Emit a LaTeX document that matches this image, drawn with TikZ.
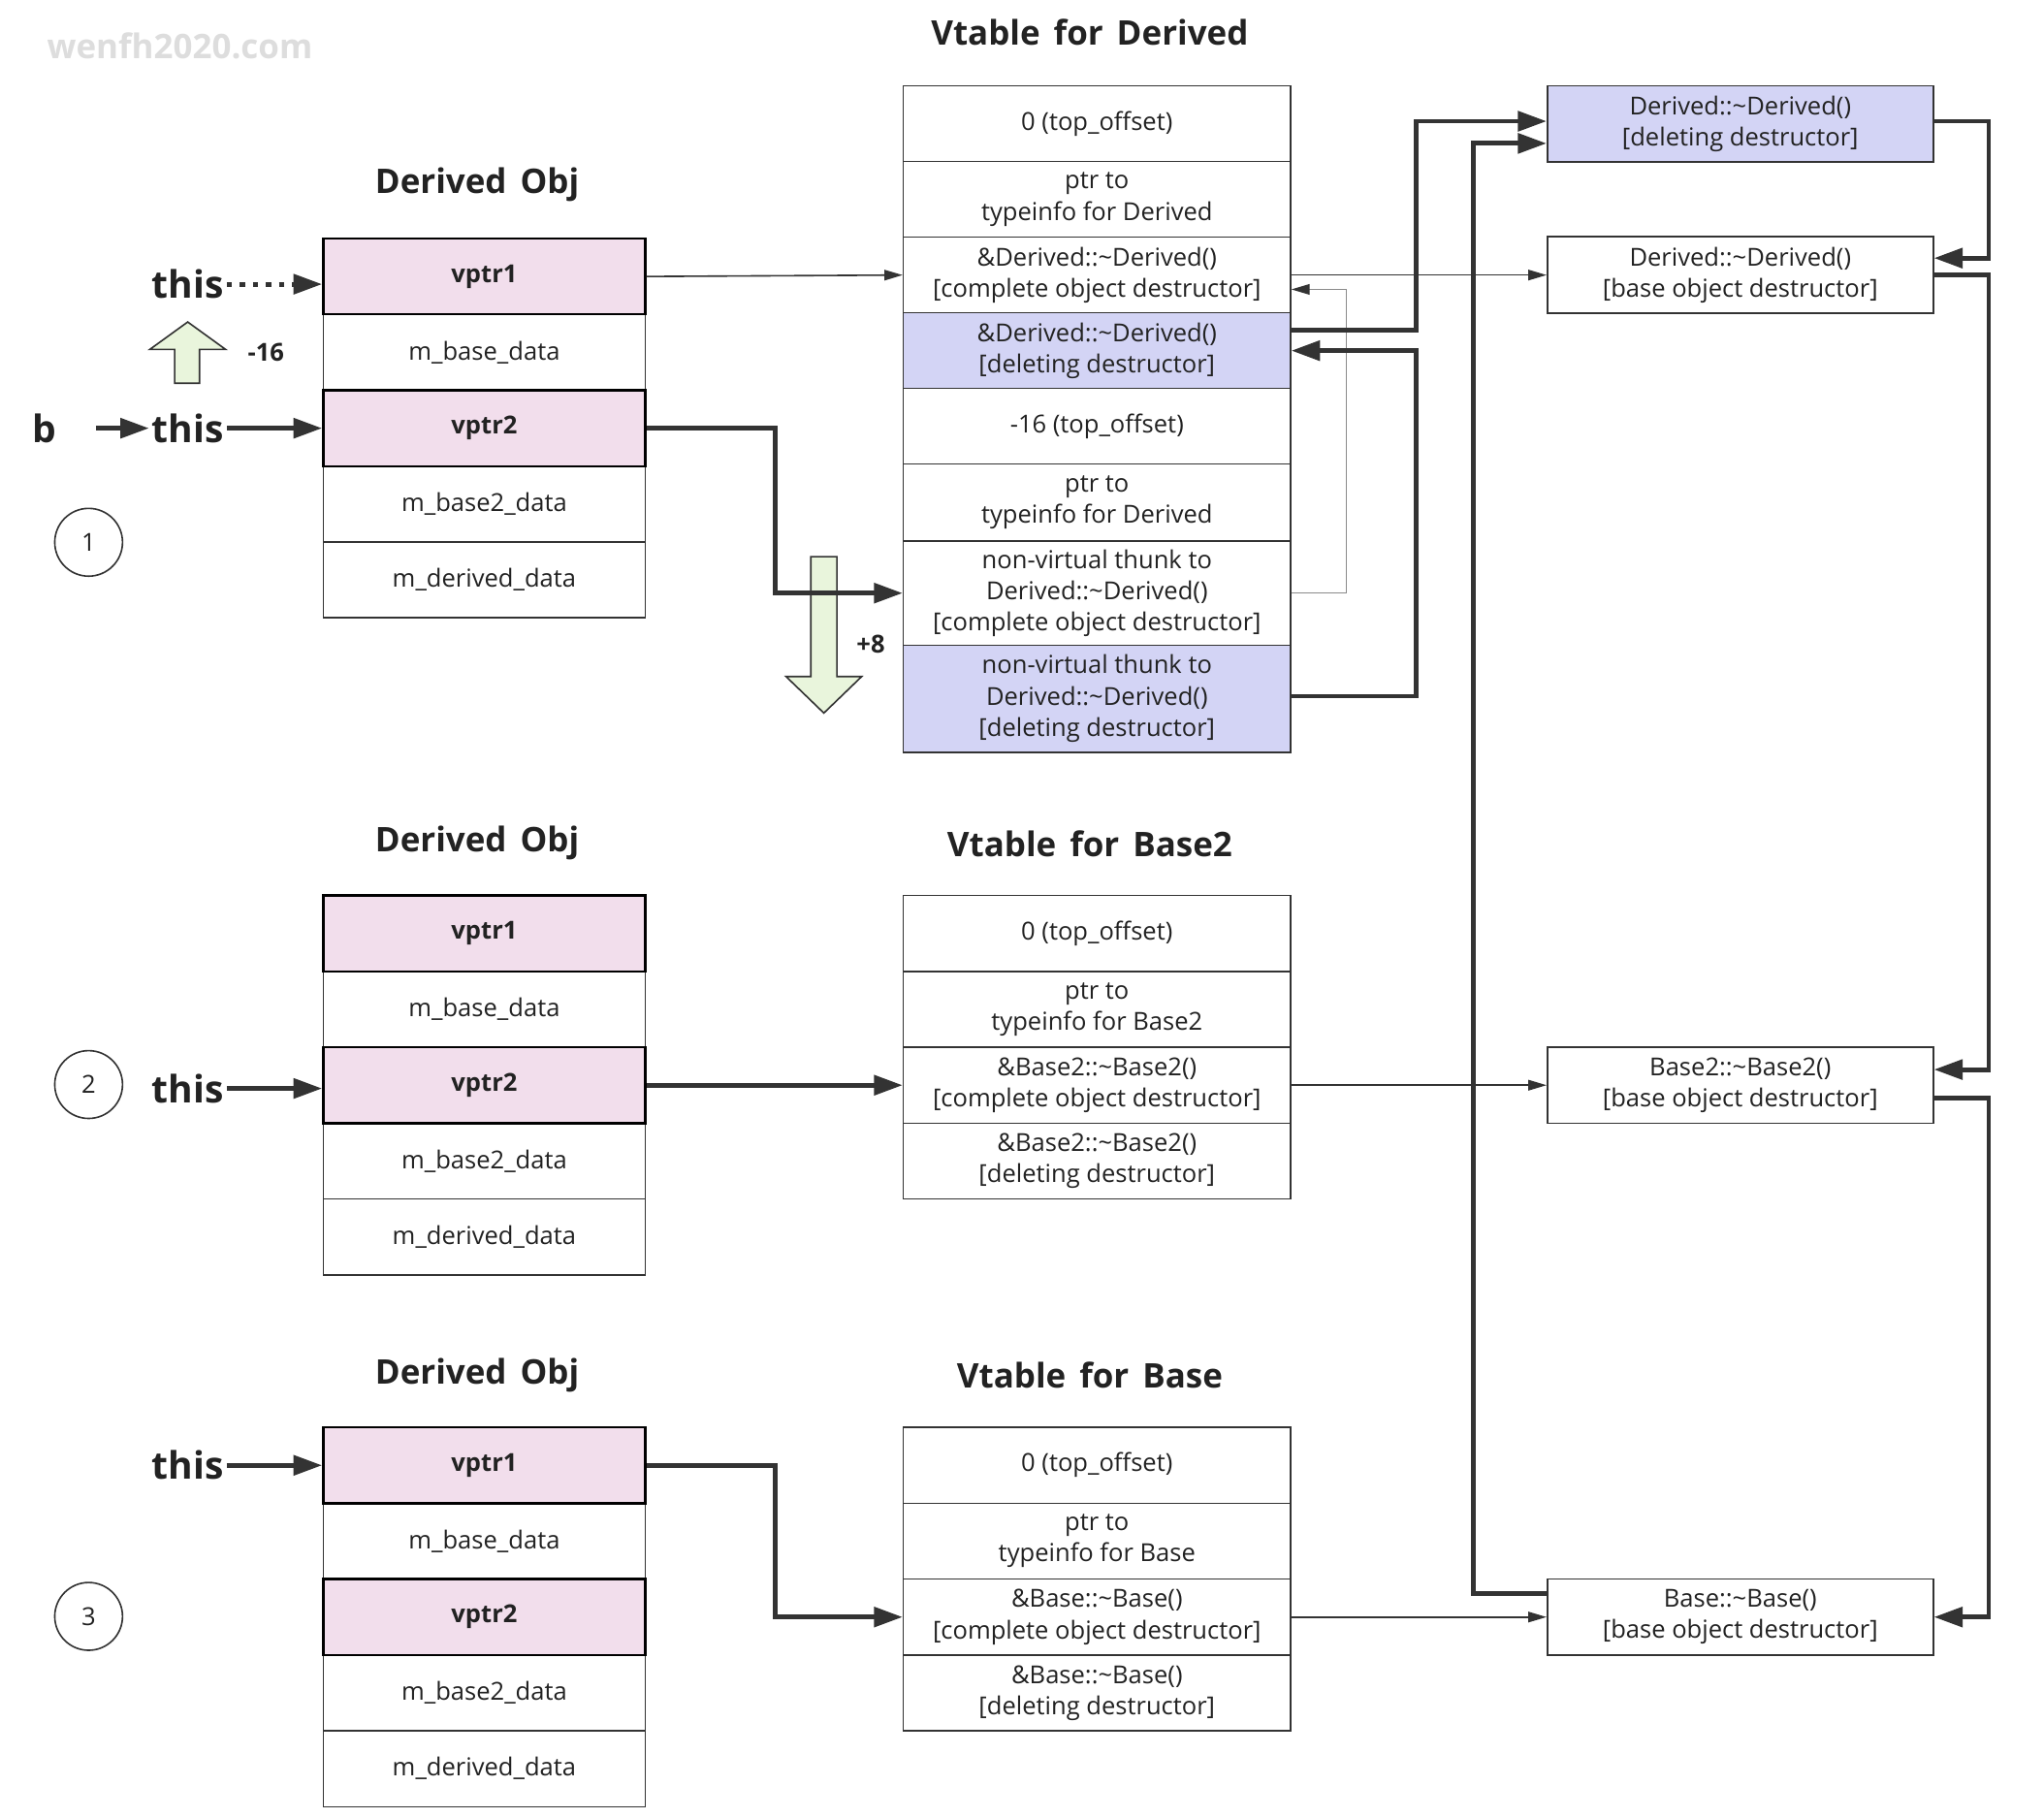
\documentclass[tikz,border=0pt]{standalone}
\usepackage{fontspec}
\setmainfont{Open Sans}
\usetikzlibrary{arrows.meta,calc}
\definecolor{ln}{HTML}{333333}
\definecolor{txt}{HTML}{222222}
\definecolor{pinkf}{HTML}{F2DEEC}
\definecolor{lavf}{HTML}{D3D4F5}
\definecolor{grnf}{HTML}{E9F5DC}
\definecolor{wm}{HTML}{DDDDDD}
\definecolor{gthin}{HTML}{8A8A8A}
\newcommand{\ttlfont}{\fontsize{13}{15}\selectfont\bfseries\spaceskip=0.4em\relax}
\begin{document}
\begin{tikzpicture}[x=0.5pt,y=-0.5pt,
  body/.style={font=\fontsize{9.5}{12}\selectfont,text=txt,align=center},
  objc/.style={body,draw=ln,line width=0.6pt,fill=white,minimum width=123.5pt,minimum height=29.1pt,inner sep=0pt},
  vp/.style={fill=pinkf,draw=black,line width=0.9pt,font=\fontsize{9.5}{12}\selectfont\bfseries},
  vtc/.style={body,draw=ln,line width=0.6pt,fill=white,minimum width=148.5pt,minimum height=29.1pt,inner sep=0pt},
  rbox/.style={body,draw=ln,line width=0.6pt,fill=white,minimum width=148pt,minimum height=29.3pt,inner sep=0pt},
  lav/.style={fill=lavf},
  ttl/.style={font=\ttlfont,text=txt},
  thisf/.style={font=\fontsize{14.5}{18}\selectfont\bfseries,text=txt,inner sep=1pt},
  numc/.style={body,circle,draw=ln,line width=0.6pt,minimum size=26pt,inner sep=0pt},
  offl/.style={font=\fontsize{9.5}{11}\selectfont\bfseries,text=txt},
  thk/.style={draw=ln,line width=1.8pt,-{Triangle[length=11pt,width=7.5pt]}},
  thn/.style={draw=ln,line width=0.6pt,-{Triangle[length=7pt,width=4pt]}},
  gthn/.style={draw=gthin,line width=0.5pt,-{Triangle[length=7pt,width=4pt,color=ln]}},
  garrow/.style={fill=grnf,draw=ln,line width=0.6pt,line join=miter}
]
\useasboundingbox (0,0) rectangle (1568,1394);
\fill[white] (0,0) rectangle (1568,1394);

% watermark
\node[font=\fontsize{13}{15}\selectfont\bfseries,text=wm] (wmk) at (138,35) {wenfh2020.com};

% ---------- titles ----------
\node[ttl] (tto1) at (366,142) {Derived Obj};
\node[ttl] (tto2) at (366,647) {Derived Obj};
\node[ttl] (tto3) at (366,1055) {Derived Obj};
\node[ttl] (ttv1) at (836,25) {Vtable for Derived};
\node[ttl] (ttv2) at (836,647) {Vtable for Base2};
\node[ttl] (ttv3) at (836,1055) {Vtable for Base};

% ---------- object 1 ----------
\node[objc] (a2) at (371.5,270.3) {m\_base\_data};
\node[objc] (a4) at (371.5,386.7) {m\_base2\_data};
\node[objc] (a5) at (371.5,444.9) {m\_derived\_data};
\node[objc,vp] (a1) at (371.5,212.1) {vptr1};
\node[objc,vp] (a3) at (371.5,328.5) {vptr2};

% ---------- object 2 ----------
\node[objc] (b2) at (371.5,774.3) {m\_base\_data};
\node[objc] (b4) at (371.5,890.7) {m\_base2\_data};
\node[objc] (b5) at (371.5,948.9) {m\_derived\_data};
\node[objc,vp] (b1) at (371.5,716.1) {vptr1};
\node[objc,vp] (b3) at (371.5,832.5) {vptr2};

% ---------- object 3 ----------
\node[objc] (c2) at (371.5,1182.3) {m\_base\_data};
\node[objc] (c4) at (371.5,1298.7) {m\_base2\_data};
\node[objc] (c5) at (371.5,1356.9) {m\_derived\_data};
\node[objc,vp] (c1) at (371.5,1124.1) {vptr1};
\node[objc,vp] (c3) at (371.5,1240.5) {vptr2};

% ---------- vtable for Derived ----------
\node[vtc] (d1) at (841.5,95) {0 (top\_offset)};
\node[vtc] (d2) at (841.5,153) {ptr to\\typeinfo for Derived};
\node[vtc] (d3) at (841.5,211) {\&Derived::\textasciitilde Derived()\\{}[complete object destructor]};
\node[vtc,lav] (d4) at (841.5,269) {\&Derived::\textasciitilde Derived()\\{}[deleting destructor]};
\node[vtc] (d5) at (841.5,327) {-16 (top\_offset)};
\node[vtc,minimum height=29.5pt] (d6) at (841.5,385.5) {ptr to\\typeinfo for Derived};
\node[vtc,minimum height=40pt] (d7) at (841.5,455) {non-virtual thunk to\\Derived::\textasciitilde Derived()\\{}[complete object destructor]};
\node[vtc,lav,minimum height=41pt] (d8) at (841.5,536) {non-virtual thunk to\\Derived::\textasciitilde Derived()\\{}[deleting destructor]};

% ---------- vtable for Base2 ----------
\node[vtc] (e1) at (841.5,716.1) {0 (top\_offset)};
\node[vtc] (e2) at (841.5,774.3) {ptr to\\typeinfo for Base2};
\node[vtc] (e3) at (841.5,832.5) {\&Base2::\textasciitilde Base2()\\{}[complete object destructor]};
\node[vtc] (e4) at (841.5,890.7) {\&Base2::\textasciitilde Base2()\\{}[deleting destructor]};

% ---------- vtable for Base ----------
\node[vtc] (f1) at (841.5,1124.1) {0 (top\_offset)};
\node[vtc] (f2) at (841.5,1182.3) {ptr to\\typeinfo for Base};
\node[vtc] (f3) at (841.5,1240.5) {\&Base::\textasciitilde Base()\\{}[complete object destructor]};
\node[vtc] (f4) at (841.5,1298.7) {\&Base::\textasciitilde Base()\\{}[deleting destructor]};

% ---------- destructor boxes ----------
\node[rbox,lav] (A) at (1335,95) {Derived::\textasciitilde Derived()\\{}[deleting destructor]};
\node[rbox] (B) at (1335,211) {Derived::\textasciitilde Derived()\\{}[base object destructor]};
\node[rbox] (C) at (1335,832.5) {Base2::\textasciitilde Base2()\\{}[base object destructor]};
\node[rbox] (D) at (1335,1240.5) {Base::\textasciitilde Base()\\{}[base object destructor]};

% ---------- numbers ----------
\node[numc] (n1) at (68,416) {1};
\node[numc] (n2) at (68,832) {2};
\node[numc] (n3) at (68,1240) {3};

% ---------- this pointers ----------
\node[thisf,anchor=east] (t1) at (174,218) {this};
\node[thisf,anchor=east] (t2) at (174,328.5) {this};
\node[thisf] (bb) at (34,328.5) {b};
\node[thisf,anchor=east] (t3) at (174,835) {this};
\node[thisf,anchor=east] (t4) at (174,1124.1) {this};

% green offset arrows
\draw[garrow] (134,294) -- (153,294) -- (153,268) -- (173,268) -- (144,247) -- (115,268) -- (134,268) -- cycle;
\node[offl] (m16) at (204,270) {-16};
\draw[garrow] (622,427) -- (642,427) -- (642,519) -- (661,519) -- (632,547) -- (603,519) -- (622,519) -- cycle;
\node[offl] (p8) at (668,494) {+8};

% this arrows
\draw[draw=ln,line width=1.8pt,dash pattern=on 2pt off 3pt,-{Triangle[length=11pt,width=7.5pt]}] (t1.east) -- (a1.west |- t1.east);
\draw[thk] (t2.east) -- (a3.west);
\draw[thk] ([xshift=14pt]bb.east) -- (t2.west);
\draw[thk] (t3.east) -- (b3.west |- t3.east);
\draw[thk] (t4.east) -- (c1.west);

% ---------- connectors ----------
\draw[thn] (a1.east) -- (d3.west);
\draw[thk] (a3.east) -- ++(99,0) |- (d7.west);
\draw[gthn] (d7.east) -- ++(42,0) |- ([yshift=-5.5pt]d3.east);
\draw[thn] (d3.east) -- (B.west);
\draw[thk] ([yshift=8pt]d4.east) -- ++(96,0) |- ([yshift=1pt]A.west);
\draw[thk] ([yshift=1pt]d8.east) -- ++(96,0) |- (d4.east);
\draw[thk] ([yshift=9pt]D.west) -- ++(-56,0) |- ([yshift=-7.5pt]A.west);
\draw[thk] ([yshift=1pt]A.east) -- ++(42,0) |- ([yshift=6.5pt]B.east);
\draw[thk] (B.east) -- ++(42,0) |- ([yshift=6pt]C.east);
\draw[thk] ([yshift=-5pt]C.east) -- ++(42,0) |- (D.east);
\draw[thn] (e3.east) -- (C.west);
\draw[thn] (f3.east) -- (D.west);
\draw[thk] (b3.east) -- (e3.west);
\draw[thk] (c1.east) -- ++(99,0) |- (f3.west);
\end{tikzpicture}
\end{document}
